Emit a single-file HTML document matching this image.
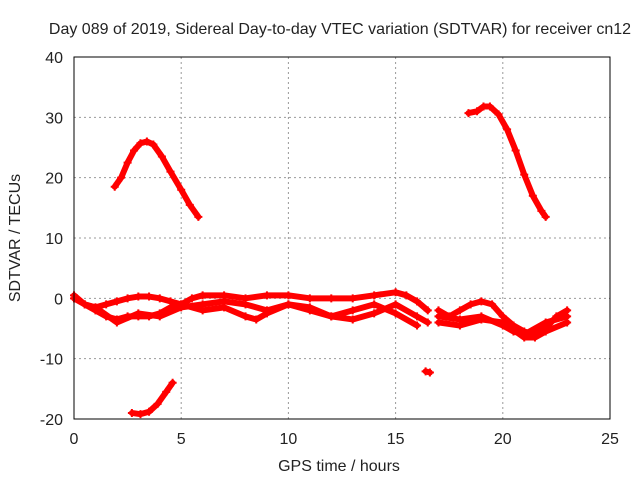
<!DOCTYPE html>
<html><head><meta charset="utf-8"><style>
body{margin:0;background:#fff;}
svg text{font-family:"Liberation Sans",sans-serif;font-size:16px;fill:#222;}
</style></head><body>
<svg id="chart" width="640" height="480">
<text x="340" y="34" text-anchor="middle">Day 089 of 2019, Sidereal Day-to-day VTEC variation (SDTVAR) for receiver cn12</text>
<g id="grid"></g><g id="ticks"></g><g id="series"></g>
<rect x="74" y="57" width="536" height="362" fill="none" stroke="#000" stroke-width="1"/>
<text x="339" y="471" text-anchor="middle">GPS time / hours</text>
<text transform="translate(20,238) rotate(-90)" text-anchor="middle">SDTVAR / TECUs</text>
</svg>
<script>
const xTicks=[0,5,10,15,20,25];
const yTicks=[-20,-10,0,10,20,30,40];
const arcA=[[1.9,18.5],[2.2,20],[2.5,22.5],[2.8,24.5],[3.1,25.7],[3.4,26],[3.7,25.5],[4.1,23.5],[4.5,21],[5,18],[5.4,15.5],[5.8,13.5]];
const arcB=[[18.4,30.7],[18.8,31],[19.1,31.8],[19.4,31.8],[19.8,30.5],[20.2,28],[20.6,24.5],[21,20.5],[21.4,17],[21.8,14.5],[22,13.5]];
const arcC=[[2.7,-19],[3.1,-19.2],[3.5,-18.8],[3.9,-17.5],[4.3,-15.5],[4.6,-14]];
const ptD=[[16.4,-12.1],[16.6,-12.3]];
const band1=[[0,0.5],[0.5,-1],[1,-1.5],[1.5,-1],[2,-0.5],[2.5,0],[3,0.3],[3.5,0.3],[4,0],[4.5,-0.5],[5,-1],[5.5,0],[6,0.5],[7,0.5],[8,0],[9,0.5],[10,0.5],[11,0],[12,0],[13,0],[14,0.5],[15,1],[15.5,0.5],[16,-0.5],[16.5,-2]];
const band2=[[0,0],[1,-2],[1.5,-3],[2,-3.5],[2.5,-3],[3,-3],[3.5,-3],[4,-2.5],[4.5,-1.5],[5,-1],[6,-2],[7,-1.5],[8,-3],[8.5,-3.5],[9,-2.5],[10,-1],[11,-1.5],[12,-3],[13,-3.5],[14,-2.5],[15,-1],[16,-3],[16.5,-4]];
const band3=[[0.5,-1],[1,-1.5],[2,-4],[3,-2.5],[4,-3],[5,-1.5],[6,-1],[7,-0.5],[8,-1],[9,-2],[10,-1],[11,-2],[12,-3],[13,-2],[14,-1],[15,-2.5],[16,-4.5]];
const band4=[[17,-2],[17.5,-3],[18,-2],[18.5,-1],[19,-0.5],[19.5,-1],[20,-3],[20.5,-4.5],[21,-5.5],[21.5,-6],[22,-5],[22.5,-3],[23,-2]];
const band5=[[17,-4],[18,-4.5],[19,-3.5],[20,-4],[21,-6.5],[21.5,-6.5],[22,-5.5],[23,-4]];
const band6=[[17,-3],[18,-3.5],[19,-3],[20,-4.5],[20.5,-5.5],[21,-6],[22,-4],[23,-3]];
const allSeries=[arcA,arcB,arcC,ptD,band1,band2,band3,band4,band5,band6];
const X=v=>74+v*536/25, Y=v=>419-(v+20)*362/60;
const NS="http://www.w3.org/2000/svg";
function mk(t,a,p){const e=document.createElementNS(NS,t);for(const k in a)e.setAttribute(k,a[k]);document.getElementById(p).appendChild(e);return e;}
xTicks.forEach(t=>{
 if(t>0&&t<25){const g=mk('line',{x1:X(t),x2:X(t),y1:57,y2:419,stroke:'#999','stroke-dasharray':'2,3'},'grid');
 
 }
 const l=mk('text',{x:X(t),y:444,'text-anchor':'middle'},'ticks');l.textContent=t;
 
 
});
yTicks.forEach(t=>{
 if(t>-20&&t<40){const g=mk('line',{x1:74,x2:610,y1:Y(t),y2:Y(t),stroke:'#999','stroke-dasharray':'2,3'},'grid');
 
 }
 const l=mk('text',{x:63,y:Y(t)+6,'text-anchor':'end'},'ticks');l.textContent=t;
 
 
});
allSeries.forEach((s,i)=>{
 const pl=mk('polyline',{points:s.map(p=>X(p[0])+','+Y(p[1])).join(' '),fill:'none',stroke:'#f00','stroke-width':6,'stroke-linejoin':'round','stroke-linecap':'round'},'series');
 
 
 s.forEach(p=>{const m=mk('path',{d:`M${X(p[0])-4},${Y(p[1])}h8M${X(p[0])},${Y(p[1])-4}v8`,stroke:'#f00','stroke-width':2},'series');
 
 });
});
</script>
</body></html>
